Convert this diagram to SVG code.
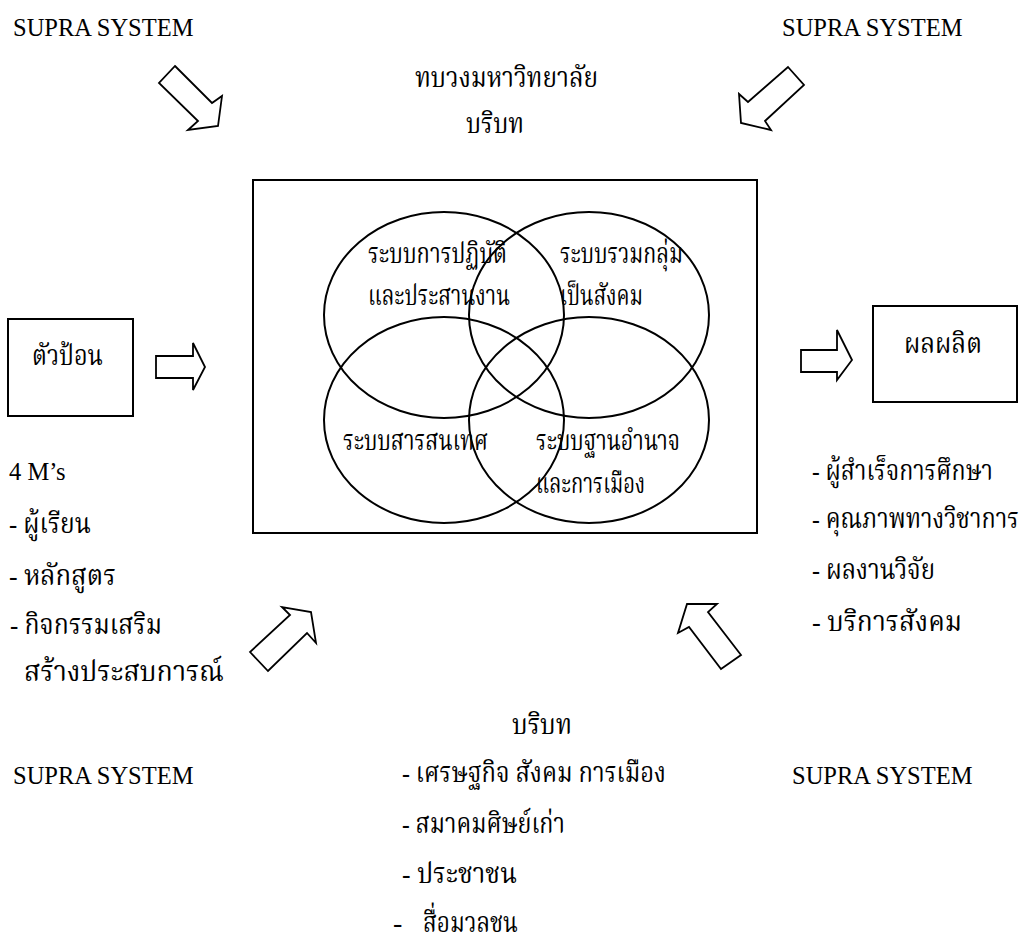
<svg xmlns="http://www.w3.org/2000/svg" width="1022" height="938" viewBox="0 0 1022 938">
<style>
.lat{font-family:"Liberation Serif",serif;font-size:24.5px;fill:#000}
.th{font-family:"Liberation Serif","Noto Serif Thai","Noto Sans Thai",serif;font-size:28px;fill:#000}
.ln{fill:none;stroke:#000;stroke-width:2}
.ar{fill:#fff;stroke:#000;stroke-width:1.8;stroke-linejoin:miter}
</style>
<rect width="1022" height="938" fill="#fff"/>
<g id="supra-tl"><text class="lat" x="13" y="36">SUPRA SYSTEM</text></g>
<g id="supra-tr"><text class="lat" x="782" y="36">SUPRA SYSTEM</text></g>
<g id="supra-bl"><text class="lat" x="13" y="784">SUPRA SYSTEM</text></g>
<g id="supra-br"><text class="lat" x="792" y="784">SUPRA SYSTEM</text></g>
<g id="title"><text class="th" x="415" y="87" textLength="183" lengthAdjust="spacingAndGlyphs">ทบวงมหาวิทยาลัย</text><text class="th" x="466" y="133" textLength="58" lengthAdjust="spacingAndGlyphs">บริบท</text></g>
<g id="system">
<rect class="ln" x="253" y="180" width="504" height="353"/>
<ellipse class="ln" cx="444" cy="315" rx="120" ry="103"/>
<ellipse class="ln" cx="589" cy="315" rx="120" ry="103"/>
<ellipse class="ln" cx="444" cy="420" rx="120" ry="103"/>
<ellipse class="ln" cx="589" cy="420" rx="120" ry="103"/>
<text class="th" x="368" y="263" textLength="139" lengthAdjust="spacingAndGlyphs">ระบบการปฏิบัติ</text>
<text class="th" x="368" y="305" textLength="142" lengthAdjust="spacingAndGlyphs">และประสานงาน</text>
<text class="th" x="560" y="263" textLength="123" lengthAdjust="spacingAndGlyphs">ระบบรวมกลุ่ม</text>
<text class="th" x="560" y="305" textLength="83" lengthAdjust="spacingAndGlyphs">เป็นสังคม</text>
<text class="th" x="343" y="450" textLength="145" lengthAdjust="spacingAndGlyphs">ระบบสารสนเทศ</text>
<text class="th" x="536" y="450" textLength="144" lengthAdjust="spacingAndGlyphs">ระบบฐานอำนาจ</text>
<text class="th" x="536" y="493" textLength="109" lengthAdjust="spacingAndGlyphs">และการเมือง</text>
</g>
<g id="input"><rect class="ln" x="8" y="319" width="125" height="97"/><text class="th" x="32" y="365" textLength="71" lengthAdjust="spacingAndGlyphs">ตัวป้อน</text></g>
<g id="input-list">
<text class="lat" x="9" y="480">4 M’s</text>
<text class="th" x="9" y="533" textLength="82" lengthAdjust="spacingAndGlyphs">- ผู้เรียน</text>
<text class="th" x="9" y="585" textLength="107" lengthAdjust="spacingAndGlyphs">- หลักสูตร</text>
<text class="th" x="10" y="634" textLength="152" lengthAdjust="spacingAndGlyphs">- กิจกรรมเสริม</text>
<text class="th" x="24" y="681" textLength="200" lengthAdjust="spacingAndGlyphs">สร้างประสบการณ์</text>
</g>
<g id="output"><rect class="ln" x="873" y="306" width="144" height="96"/><text class="th" x="904" y="353" textLength="78" lengthAdjust="spacingAndGlyphs">ผลผลิต</text></g>
<g id="output-list">
<text class="th" x="812" y="480" textLength="181" lengthAdjust="spacingAndGlyphs">- ผู้สำเร็จการศึกษา</text>
<text class="th" x="812" y="528" textLength="207" lengthAdjust="spacingAndGlyphs">- คุณภาพทางวิชาการ</text>
<text class="th" x="812" y="579" textLength="123" lengthAdjust="spacingAndGlyphs">- ผลงานวิจัย</text>
<text class="th" x="812" y="631" textLength="150" lengthAdjust="spacingAndGlyphs">- บริการสังคม</text>
</g>
<g id="context">
<text class="th" x="512" y="734" textLength="60" lengthAdjust="spacingAndGlyphs">บริบท</text>
<text class="th" x="402" y="782" textLength="264" lengthAdjust="spacingAndGlyphs">- เศรษฐกิจ สังคม การเมือง</text>
<text class="th" x="402" y="833" textLength="163" lengthAdjust="spacingAndGlyphs">- สมาคมศิษย์เก่า</text>
<text class="th" x="402" y="883" textLength="115" lengthAdjust="spacingAndGlyphs">- ประชาชน</text>
<text class="th" x="393" y="932">-</text>
<text class="th" x="423" y="932" textLength="95" lengthAdjust="spacingAndGlyphs">สื่อมวลชน</text>
</g>
<g id="connectors">
<polygon class="ar" points="175,66 212,103 222,96 218,126 188,130 198,121 159,83"/>
<polygon class="ar" points="788,67 804,85 765,121 771,130 741,123 739,94 748,102"/>
<polygon class="ar" points="156,356 193,356 193,343 205,367 193,390 193,378 156,378"/>
<polygon class="ar" points="801,350 837,350 837,330 852,360 837,380 837,372 801,372"/>
<polygon class="ar" points="250,652 268,671 307,633 316,643 311,612 282,607 290,615"/>
<polygon class="ar" points="687,604 717,604 708,612 741,655 721,669 689,627 678,633"/>
</g>
</svg>
